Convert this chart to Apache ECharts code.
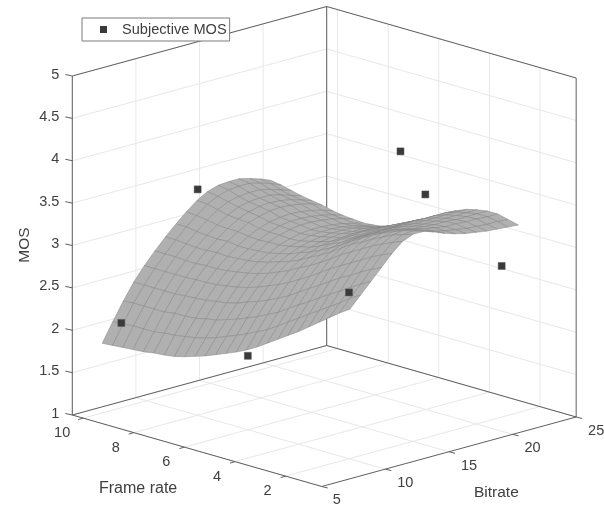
<!DOCTYPE html>
<html><head><meta charset="utf-8">
<style>html,body{margin:0;padding:0;background:#fff}#c{width:604px;height:508px}</style>
<script src="https://cdn.jsdelivr.net/npm/echarts@6/dist/echarts.min.js"></script>
</head><body><div id="c"></div>
<script>
// ---------- data ----------
const bitrateTicks = [5, 10, 15, 20, 25];
const frameRateTicks = [2, 4, 6, 8, 10];
const mosTicks = [1, 1.5, 2, 2.5, 3, 3.5, 4, 4.5, 5];
const legendName = 'Subjective MOS';
const bitrateRange = [5, 25];
const frameRateRange = [0.57, 10.43];
const mosRange = [1, 5];

const subjectiveBitrate = [8, 8, 8, 14, 14, 20, 20];
const subjectiveFrameRate = [10, 5, 1, 10, 1, 5, 1];
const subjectiveMos = [2.0, 2.04, 3.13, 3.33, 4.04, 3.96, 2.95];

const surfaceBitrate = [7.35,8.18,9.01,9.83,10.66,11.49,12.32,13.15,13.97,14.80,15.63,16.46,17.29,18.11,18.94,19.77,20.60];
const surfaceFrameRate = [10.43,10.02,9.61,9.21,8.80,8.39,7.98,7.57,7.17,6.76,6.35,5.94,5.53,5.13,4.72,4.31,3.90,3.49,3.09,2.68,2.27,1.86,1.45,1.05,0.64];
const surfaceMos = [
[1.75,1.97,2.18,2.37,2.53,2.67,2.80,2.92,3.03,3.13,3.20,3.24,3.25,3.25,3.22,3.18,3.13],
[1.76,1.98,2.19,2.37,2.53,2.67,2.80,2.92,3.02,3.12,3.18,3.22,3.23,3.23,3.20,3.16,3.11],
[1.77,1.99,2.19,2.37,2.53,2.67,2.79,2.90,3.00,3.09,3.15,3.18,3.19,3.19,3.16,3.12,3.08],
[1.78,1.99,2.19,2.37,2.53,2.66,2.78,2.89,2.98,3.06,3.12,3.15,3.16,3.16,3.13,3.09,3.05],
[1.79,1.99,2.19,2.37,2.53,2.66,2.78,2.88,2.97,3.05,3.10,3.13,3.14,3.13,3.11,3.07,3.03],
[1.81,2.01,2.21,2.38,2.54,2.67,2.79,2.89,2.97,3.04,3.08,3.11,3.12,3.11,3.09,3.06,3.01],
[1.82,2.02,2.21,2.39,2.54,2.67,2.78,2.87,2.95,3.01,3.05,3.07,3.08,3.07,3.05,3.02,2.98],
[1.84,2.04,2.22,2.40,2.55,2.68,2.79,2.87,2.94,3.00,3.04,3.06,3.06,3.05,3.03,3.00,2.96],
[1.87,2.06,2.25,2.42,2.57,2.70,2.80,2.88,2.95,3.00,3.03,3.05,3.05,3.04,3.02,2.99,2.95],
[1.91,2.09,2.27,2.44,2.59,2.72,2.82,2.89,2.95,2.99,3.02,3.03,3.03,3.02,3.00,2.97,2.94],
[1.95,2.13,2.31,2.47,2.62,2.75,2.85,2.92,2.97,3.00,3.03,3.04,3.04,3.03,3.01,2.98,2.95],
[2.00,2.18,2.35,2.52,2.66,2.79,2.89,2.95,3.00,3.03,3.05,3.06,3.06,3.05,3.03,3.00,2.97],
[2.05,2.23,2.40,2.56,2.71,2.84,2.93,3.00,3.03,3.06,3.08,3.09,3.08,3.08,3.06,3.04,3.01],
[2.10,2.28,2.45,2.61,2.76,2.89,2.98,3.04,3.08,3.10,3.11,3.12,3.12,3.11,3.10,3.08,3.06],
[2.16,2.34,2.51,2.67,2.82,2.96,3.05,3.10,3.14,3.16,3.17,3.18,3.18,3.17,3.16,3.15,3.13],
[2.23,2.40,2.57,2.73,2.89,3.02,3.11,3.16,3.19,3.21,3.22,3.23,3.23,3.23,3.22,3.21,3.19],
[2.31,2.48,2.65,2.81,2.96,3.09,3.18,3.23,3.26,3.27,3.28,3.28,3.28,3.28,3.28,3.27,3.26],
[2.39,2.56,2.73,2.89,3.04,3.17,3.26,3.31,3.33,3.33,3.34,3.34,3.35,3.35,3.34,3.34,3.33],
[2.47,2.64,2.80,2.96,3.12,3.25,3.34,3.38,3.40,3.40,3.40,3.40,3.41,3.41,3.41,3.41,3.40],
[2.55,2.72,2.88,3.04,3.19,3.32,3.40,3.45,3.45,3.45,3.45,3.45,3.45,3.45,3.45,3.45,3.45],
[2.64,2.80,2.96,3.12,3.26,3.39,3.47,3.51,3.51,3.49,3.49,3.48,3.48,3.48,3.48,3.48,3.48],
[2.73,2.88,3.03,3.18,3.33,3.46,3.53,3.56,3.55,3.53,3.52,3.51,3.51,3.50,3.50,3.50,3.50],
[2.82,2.96,3.11,3.26,3.40,3.52,3.59,3.61,3.59,3.56,3.54,3.52,3.52,3.51,3.51,3.50,3.50],
[2.91,3.05,3.18,3.32,3.46,3.57,3.63,3.64,3.61,3.57,3.54,3.52,3.50,3.49,3.48,3.48,3.47],
[2.99,3.12,3.25,3.38,3.51,3.62,3.67,3.67,3.63,3.58,3.54,3.51,3.49,3.47,3.46,3.45,3.44]
];

// ---------- oblique view of the 3D box onto the hidden 2D axes ----------
const VIEW = {x0:72.3, y0:415, bx:12.72, by:-3.475, fx:-25.3, fy:-7.25, zy:-84.75};
function project(b, f, z) {
  const db = b - bitrateRange[0], df = f - frameRateRange[1], dz = z - mosRange[0];
  return [VIEW.x0 + VIEW.bx*db + VIEW.fx*df, VIEW.y0 + VIEW.by*db + VIEW.fy*df + VIEW.zy*dz];
}
const [bMin,bMax] = bitrateRange, [fMin,fMax] = frameRateRange, [zMin,zMax] = mosRange;

// grid lines and box edges: [b1,f1,z1,b2,f2,z2]
const gridLines = [];
bitrateTicks.forEach(b => { gridLines.push([b,fMin,zMin,b,fMax,zMin]); gridLines.push([b,fMax,zMin,b,fMax,zMax]); });
frameRateTicks.forEach(f => { gridLines.push([bMin,f,zMin,bMax,f,zMin]); gridLines.push([bMax,f,zMin,bMax,f,zMax]); });
mosTicks.forEach(z => { gridLines.push([bMin,fMax,z,bMax,fMax,z]); gridLines.push([bMax,fMax,z,bMax,fMin,z]); });
const boxLines = [
 [bMin,fMax,zMin,bMin,fMax,zMax],[bMax,fMax,zMin,bMax,fMax,zMax],[bMax,fMin,zMin,bMax,fMin,zMax],
 [bMin,fMax,zMax,bMax,fMax,zMax],[bMax,fMax,zMax,bMax,fMin,zMax],
 [bMin,fMax,zMin,bMax,fMax,zMin],[bMax,fMax,zMin,bMax,fMin,zMin],
 [bMin,fMax,zMin,bMin,fMin,zMin],[bMin,fMin,zMin,bMax,fMin,zMin]
];
// surface cells, far to near: [b0,b1,f0,f1,z00,z10,z11,z01]
const cells = [];
for (let j = 0; j < surfaceFrameRate.length-1; j++)
  for (let i = surfaceBitrate.length-2; i >= 0; i--)
    cells.push([surfaceBitrate[i],surfaceBitrate[i+1],surfaceFrameRate[j],surfaceFrameRate[j+1],
      surfaceMos[j][i],surfaceMos[j][i+1],surfaceMos[j+1][i+1],surfaceMos[j+1][i]]);

const FONT = '"Liberation Sans", Arial, sans-serif', INK = '#404040', EDGE = '#606060';
const px = (api, b, f, z) => api.coord(project(b, f, z));

function segSeries(data, color, width, z) {
  return {type:'custom', silent:true, z, clip:false, animation:false, progressive:0, data,
    renderItem:(p, api) => {
      const a = px(api, api.value(0), api.value(1), api.value(2)), c = px(api, api.value(3), api.value(4), api.value(5));
      return {type:'line', shape:{x1:a[0],y1:a[1],x2:c[0],y2:c[1]}, style:{stroke:color, lineWidth:width}};
    }};
}
const tickMarks = [
  ...mosTicks.map(z => ({at:[bMin,fMax,z], d:[-7,-1.5]})),
  ...frameRateTicks.map(f => ({at:[bMin,f,zMin], d:[-5,1.5]})),
  ...bitrateTicks.map(b => ({at:[b,fMin,zMin], d:[6,1.5]}))
];
const labels = [
  ...mosTicks.map(z => ({at:[bMin,fMax,z], t:String(z), x:-13, y:-1.5, align:'right'})),
  ...frameRateTicks.map(f => ({at:[bMin,f,zMin], t:String(f), x:f===10?-21:-18, y:15, align:'center'})),
  ...bitrateTicks.map(b => ({at:[b,fMin,zMin], t:String(b), x:b===5?15:20, y:14, align:'center'}))
];

const option = {
  backgroundColor:'#fff', animation:false,
  grid:{left:0,right:0,top:0,bottom:0,show:false},
  xAxis:{type:'value',min:0,max:604,show:false},
  yAxis:{type:'value',min:0,max:508,inverse:true,show:false},
  legend:{
    left:82, top:18, orient:'horizontal', padding:[4,3,4,18], selectedMode:false,
    backgroundColor:'#fff', borderColor:'#7a7a7a', borderWidth:1,
    itemWidth:7, itemHeight:7,
    textStyle:{fontFamily:FONT, fontSize:14.6, color:INK, padding:[0,0,0,10]},
    data:[{name:legendName, icon:'rect', itemStyle:{color:'#3a3a3a'}}]
  },
  series:[
    segSeries(gridLines,'#e8e8e8',1,1),
    segSeries(boxLines,EDGE,1,2),
    {type:'custom', silent:true, z:2, clip:false, progressive:0, data:tickMarks.map(m=>[...m.at,...m.d]),
     renderItem:(p,api)=>{const a=px(api,api.value(0),api.value(1),api.value(2));
       return {type:'line',shape:{x1:a[0],y1:a[1],x2:a[0]+api.value(3),y2:a[1]+api.value(4)},style:{stroke:EDGE,lineWidth:1}};}},
    {type:'custom', silent:true, z:3, clip:false, progressive:0, data:cells,
     renderItem:(p,api)=>{
       const v=i=>api.value(i), pts=[px(api,v(0),v(2),v(4)),px(api,v(1),v(2),v(5)),px(api,v(1),v(3),v(6)),px(api,v(0),v(3),v(7))];
       return {type:'polygon',shape:{points:pts},style:{fill:'#b0b0b0',stroke:'#858585',lineWidth:0.5}};
     }},
    {type:'custom', name:legendName, z:4, clip:false, silent:true, progressive:0,
     itemStyle:{color:'#3a3a3a'},
     data:subjectiveMos.map((z,i)=>[subjectiveBitrate[i],subjectiveFrameRate[i],z]),
     renderItem:(p,api)=>{const a=px(api,api.value(0),api.value(1),api.value(2));
       return {type:'rect',shape:{x:a[0]-3.5,y:a[1]-3.5,width:7,height:7},style:{fill:'#3a3a3a',stroke:'#555',lineWidth:0.5}};}},
    {type:'custom', z:5, clip:false, silent:true, progressive:0, data:labels.map(l=>l.at),
     renderItem:(p,api)=>{const l=labels[p.dataIndex],a=px(api,api.value(0),api.value(1),api.value(2));
       return {type:'text',style:{x:a[0]+l.x,y:a[1]+l.y,text:l.t,align:l.align,verticalAlign:'middle',fontFamily:FONT,fontSize:14.5,fill:INK}};}}
  ],
  graphic:[
    {type:'text',left:99,top:481,style:{text:'Frame rate',fontFamily:FONT,fontSize:16,fill:INK}},
    {type:'text',left:474,top:485,style:{text:'Bitrate',fontFamily:FONT,fontSize:15.5,fill:INK}},
    {type:'text',x:25,y:245,rotation:Math.PI/2,style:{text:'MOS',align:'center',verticalAlign:'middle',fontFamily:FONT,fontSize:15.5,fill:INK}}
  ]
};
const chart = echarts.init(document.getElementById('c'),null,{renderer:'canvas'});
chart.setOption(option);
</script></body></html>
